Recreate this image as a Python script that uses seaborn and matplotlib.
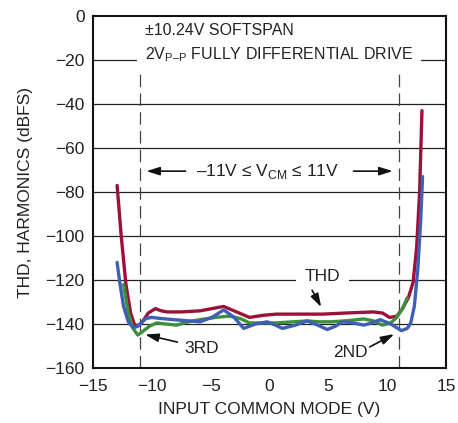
import numpy as np
import pandas as pd
import matplotlib
matplotlib.use("Agg")
import matplotlib.pyplot as plt
import seaborn as sns

# values
thd_x = [-12.95, -12.6, -12.2, -11.8, -11.5, -11.2, -10.8, -10.3, -9.7, -9.2, -8.7, -7.5,
         -5.9, -4.9, -3.9, -2.8, -1.7, -0.5, 0.6, 2.5, 4.5, 6.5, 8.8, 9.6, 10.2, 10.8,
         11.3, 11.8, 12.2, 12.5, 12.75, 12.95]
thd_y = [-77, -100, -122, -135, -140, -141, -139, -135, -133, -134, -134.5, -134.5,
         -134, -133, -132, -134.5, -137, -136, -135.5, -135.5, -135.5, -135, -134.5, -135,
         -137, -136.5, -133, -128, -121, -105, -80, -43]

h2_x = [-12.95, -12.7, -12.4, -12.0, -11.7, -11.4, -11.0, -10.5, -10.0, -9.2, -8.2,
        -7.0, -5.9, -4.9, -3.9, -3.0, -2.2, -1.2, -0.2, 0.5, 1.1, 2.2, 3.2, 4.1, 4.9,
        5.6, 6.2, 7.1, 8.0, 8.7, 9.4, 10.3, 11.2, 11.7, 12.0, 12.3, 12.6, 12.85, 13.0]
h2_y = [-112, -122, -132, -139, -141, -141.5, -140, -137.5, -137, -137.5, -138,
        -138.5, -139, -137, -133.6, -137, -142, -140, -139, -140.5, -142, -140.5, -138.6, -140.5, -142.5,
        -141, -139, -139.5, -140.5, -139.5, -138, -140, -143, -142, -139.5, -132, -115, -92, -73]

h3_x = [-12.4, -12.0, -11.6, -11.2, -10.8, -10.2, -9.6, -8.8, -7.9, -6.9, -5.9, -4.6,
        -3.4, -2.5, -1.7, -0.5, 0.6, 2.0, 3.2, 4.2, 5.2, 6.6, 8.0, 8.8, 9.6, 10.3,
        10.8, 11.3, 11.7]
h3_y = [-122, -135, -142, -145, -143.5, -141, -139.5, -140, -140.5, -139, -138, -137,
        -136.4, -137.5, -139.5, -139.5, -139.5, -139, -138.6, -139, -139, -138.5, -137.7, -138.5, -140.5, -139.5,
        -137, -133, -128]

x_ticks = [-15, -10, -5, 0, 5, 10, 15]
y_ticks = [0, -20, -40, -60, -80, -100, -120, -140, -160]
vcm_limit = 11

df = pd.concat([
    pd.DataFrame({"x": thd_x, "y": thd_y, "series": "THD"}),
    pd.DataFrame({"x": h3_x, "y": h3_y, "series": "3RD"}),
    pd.DataFrame({"x": h2_x, "y": h2_y, "series": "2ND"}),
])

sns.set_style("white")
plt.rcParams["font.family"] = ["Liberation Sans", "DejaVu Sans"]
plt.rcParams["mathtext.fontset"] = "custom"
plt.rcParams["mathtext.rm"] = "Liberation Sans"
plt.rcParams["axes.unicode_minus"] = True

fig = plt.figure(figsize=(4.58, 4.23), dpi=100)
ax = fig.add_axes([0.203, 0.130, 0.771, 0.832])

for v in y_ticks[1:-1]:
    ax.axhline(v, color="#222222", lw=0.9, zorder=0)
for v in (-vcm_limit, vcm_limit):
    ax.plot([v, v], [-160, -23], color="#444444", lw=0.9, dashes=(10, 5), zorder=1)

palette = {"THD": "#9b1239", "3RD": "#3d8f3c", "2ND": "#3d5fb4"}
sns.lineplot(data=df, x="x", y="y", hue="series", palette=palette, sort=False,
             lw=2.4, legend=False, ax=ax, zorder=3)

ax.set_xlim(-15, 15)
ax.set_ylim(-160, 0)
ax.set_xticks(x_ticks)
ax.set_yticks(y_ticks)
ax.tick_params(length=0, labelsize=12.5, colors="#222222")
ax.tick_params(axis="x", pad=8)
ax.tick_params(axis="y", pad=6)
ax.set_xlabel("INPUT COMMON MODE (V)", fontsize=12.5, color="#222222", labelpad=6)
ax.set_ylabel("THD, HARMONICS (dBFS)", fontsize=12.5, color="#222222", labelpad=9)
for s in ax.spines.values():
    s.set_color("#111111")
    s.set_linewidth(1.5)

ax.text(-10.6, -6.5, "±10.24V SOFTSPAN", fontsize=11.5, color="#222222", va="center")
ax.text(-10.6, -17.5, r"2V$_{\mathregular{P–P}}$ FULLY DIFFERENTIAL DRIVE", fontsize=11.5,
        color="#222222", va="center", bbox=dict(boxstyle="square,pad=0.5", fc="white", ec="none"), zorder=4)

ax.text(-0.2, -70.5, r"–11V ≤ V$_{\mathregular{CM}}$ ≤ 11V", fontsize=12.5, color="#222222",
        ha="center", va="center")
arr = dict(arrowstyle="-|>,head_length=0.8,head_width=0.25", color="#111111", lw=1.2)
ax.annotate("", xy=(-10.7, -70.5), xytext=(-6.9, -70.5), arrowprops=arr)
ax.annotate("", xy=(10.7, -70.5), xytext=(6.9, -70.5), arrowprops=arr)

ax.text(4.5, -118.5, "THD", fontsize=12.5, color="#222222", ha="center", va="center",
        bbox=dict(boxstyle="square,pad=0.5", fc="white", ec="none"), zorder=4)
ax.annotate("", xy=(4.5, -133.4), xytext=(3.5, -123.5), arrowprops=arr, zorder=5)

ax.text(-5.8, -151, "3RD", fontsize=12.5, color="#222222", ha="center", va="center")
ax.annotate("", xy=(-10.8, -144.5), xytext=(-7.6, -148.5), arrowprops=arr)

ax.text(6.9, -153, "2ND", fontsize=12.5, color="#222222", ha="center", va="center")
ax.annotate("", xy=(10.8, -144), xytext=(8.3, -151), arrowprops=arr)

fig.savefig("out.png", dpi=100)
